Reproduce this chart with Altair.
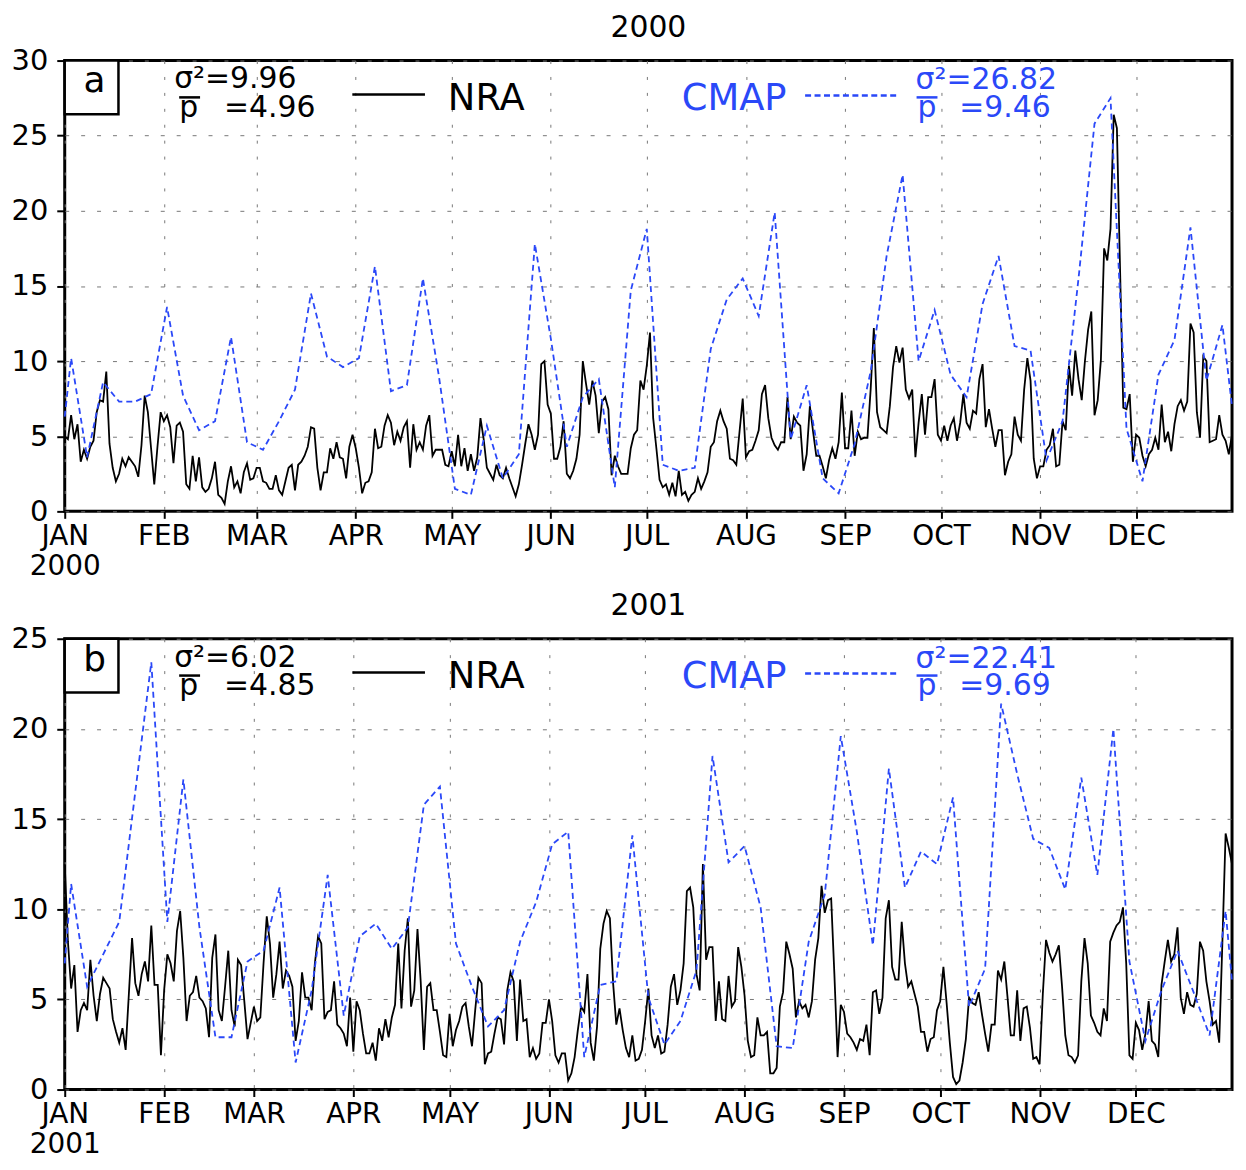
import altair as alt
import pandas as pd

MONTHS = ["JAN", "FEB", "MAR", "APR", "MAY", "JUN", "JUL", "AUG", "SEP", "OCT", "NOV", "DEC"]
MONTH_START_2000 = [0, 31, 60, 91, 121, 152, 182, 213, 244, 274, 305, 335]
MONTH_START_2001 = [0, 31, 59, 90, 120, 151, 181, 212, 243, 273, 304, 334]

# NRA daily precipitation, 2000 (366 days)
NRA_2000 = [
    5.0, 4.8, 6.4, 4.8, 5.8, 3.3, 4.1, 3.5, 4.3, 4.7,
    6.6, 7.4, 7.3, 9.3, 4.5, 2.9, 2.0, 2.5, 3.5, 3.0,
    3.6, 3.3, 3.0, 2.3, 4.4, 7.7, 6.6, 4.2, 1.8, 4.3,
    6.6, 6.0, 6.4, 5.6, 3.2, 5.7, 5.9, 5.3, 1.8, 1.5,
    3.7, 2.0, 3.6, 1.6, 1.3, 1.5, 2.2, 3.3, 1.1, 0.9,
    0.5, 2.0, 3.0, 1.6, 2.0, 1.2, 2.6, 3.2, 2.1, 2.2,
    2.9, 2.9, 2.0, 1.9, 1.5, 1.5, 2.4, 1.4, 1.1, 2.0,
    2.9, 3.1, 1.4, 3.1, 3.3, 3.7,
    4.3, 5.6, 5.5, 2.9, 1.4, 2.6, 2.6, 4.2, 3.5, 4.6,
    3.6, 3.5, 2.2, 4.3, 5.1, 4.2, 2.9, 1.2, 1.9, 2.0,
    2.6, 5.5, 4.2, 4.3, 5.7, 6.4, 5.9, 4.4, 5.3, 4.7,
    5.6, 6.0, 2.9, 5.8, 4.1, 4.6, 4.1, 5.7, 6.4, 3.7,
    4.1, 4.1, 4.1, 3.1, 3.0, 4.0, 3.0, 5.1, 3.0, 4.2,
    2.7, 3.8, 2.7, 3.6, 6.2, 4.8, 2.9, 2.5, 2.1, 3.1,
    2.4, 2.2, 2.9, 2.2, 1.6, 1.0, 1.8, 3.1, 4.5, 5.8,
    5.1, 4.1, 5.1,
    9.8, 10.0, 7.1, 6.5, 3.5, 3.5, 4.3, 6.0, 2.5, 2.2,
    2.7, 3.5, 5.1, 10.0, 8.5, 7.1, 8.7, 7.7, 5.2, 7.3,
    7.6, 6.8, 2.4, 3.7, 3.0, 2.5, 2.5, 2.5, 4.2, 5.1,
    5.4, 8.7, 8.1, 9.7, 11.9, 6.2, 4.2, 2.1, 1.6, 1.8,
    1.1, 1.9, 1.0, 2.7, 1.1, 1.3, 0.7, 1.1, 1.3, 2.2,
    1.5, 2.0, 2.6, 4.3, 4.6, 6.0, 6.7, 6.0, 5.5, 3.5,
    3.4, 3.1, 5.3, 7.5, 3.6, 4.0, 4.1, 4.7, 5.4, 7.8,
    8.4, 6.2, 4.9, 4.4, 4.1,
    4.6, 4.6,
    7.6, 4.8, 6.3, 5.9, 5.7, 2.7, 3.8, 7.0, 5.3, 3.7,
    3.7, 3.0, 2.2, 3.4, 4.2, 3.5, 4.6, 7.9, 4.2, 4.2,
    6.7, 3.7, 5.3, 4.8, 4.9, 4.9, 8.1, 12.2, 6.6, 5.6,
    5.4, 5.2, 7.0, 9.6, 11.0, 9.9, 10.9, 8.1, 7.5, 8.1,
    3.6, 5.9, 7.8, 5.1, 7.6, 7.6, 8.8, 5.1, 4.7, 5.7,
    4.7, 5.7, 6.2, 4.7, 5.9, 7.8, 5.9, 5.5, 6.7, 6.5,
    8.8, 9.8, 5.6, 6.8, 5.5, 4.3, 5.4, 5.4, 2.4, 3.3,
    3.8, 6.3, 5.1,
    4.7, 8.1, 10.2, 8.7, 3.5, 2.2, 3.0, 3.0, 4.1, 4.4,
    5.5, 3.0, 3.1, 6.0, 5.4, 9.7, 7.7, 10.7, 8.8, 7.4,
    10.0, 12.1, 13.3, 6.4, 7.4, 10.1, 17.5, 16.7, 18.8, 26.4,
    25.5, 16.0, 6.9, 6.8, 7.8, 3.3, 5.1, 4.9, 3.7, 3.0,
    3.8, 4.1, 4.9, 4.1, 7.1, 4.6, 5.3, 4.0, 5.8, 7.0,
    7.4, 6.7, 7.3, 12.5, 11.9, 6.6, 4.9, 10.3, 10.0, 4.6,
    4.7, 4.8, 6.4, 5.1, 4.7, 3.8, 5.1,
]

# CMAP pentad precipitation, 2000 (73 pentads) and values at the panel edges
CMAP_2000 = [
    10.2, 3.6, 8.6, 7.3, 7.3, 7.8, 13.6, 7.7, 5.4, 6.0, 11.6, 4.6, 4.1, 6.0, 8.1,
    14.5, 10.3, 9.6, 10.2, 16.3, 8.0, 8.4, 15.5, 9.0, 1.5, 1.1, 5.7, 2.2, 3.8, 17.8,
    11.5, 4.3, 7.6, 8.8, 1.6, 14.7, 18.8, 3.1, 2.7, 2.9, 10.8, 14.1, 15.5, 13.0, 19.9,
    4.8, 8.4, 2.2, 1.2, 4.5, 9.3, 17.0, 22.4, 10.0, 13.4, 9.1, 7.6, 13.8, 17.0, 11.0,
    10.7, 3.4, 6.0, 15.5, 25.8, 27.5, 5.5, 2.0, 9.1, 11.4, 18.9, 8.7, 12.4,
]
CMAP_2000_EDGES = [6.3, 7.0]

# NRA daily precipitation, 2001 (365 days)
NRA_2001 = [
    12.5, 8.2, 5.6, 6.9, 3.2, 4.4, 4.8, 4.4, 7.2, 5.2,
    3.8, 5.3, 6.2, 5.9, 5.6, 3.9, 3.2, 2.6, 3.4, 2.2,
    5.3, 8.4, 5.9, 5.2, 6.4, 7.1, 6.0, 9.1, 5.8, 5.8,
    1.9, 5.5, 7.5, 7.0, 6.0, 8.8, 9.9, 7.3, 3.8, 5.2,
    5.4, 6.3, 5.1, 4.9, 4.5, 2.9, 7.3, 8.6, 4.4, 3.8,
    5.7, 7.7, 4.4, 3.5, 7.2, 6.9, 4.9, 2.8, 3.7, 4.6,
    3.8, 4.0, 7.0, 9.6, 8.1, 5.1, 6.4, 8.2, 5.6, 6.6,
    6.3, 5.7, 2.7, 3.8, 6.5,
    5.1, 5.1, 4.4, 7.0, 8.5, 8.1, 3.9, 4.3, 4.4, 6.0,
    3.6, 3.4, 3.1, 2.4, 5.1, 2.1, 4.9, 4.4, 3.1, 2.0,
    2.0, 2.6, 1.6, 3.4, 2.7, 3.9, 2.9, 4.0, 4.7, 8.1,
    4.5, 7.7, 9.5, 4.6, 5.5, 8.9, 6.0, 2.2, 5.7, 5.9,
    4.4, 4.4, 3.2, 1.9, 1.8, 4.2, 2.4, 3.3, 3.8, 4.6,
    4.8, 3.5, 2.4, 4.4, 6.2, 5.9, 1.4, 2.0, 2.1, 3.1,
    4.0, 3.9, 2.5, 5.5, 6.5, 6.0, 2.7, 6.1, 3.8, 3.9,
    1.8, 2.3, 1.7,
    2.0, 3.7, 3.7, 5.0, 3.8, 1.9, 1.5, 2.0, 2.0, 0.5,
    0.9, 1.8, 3.3, 4.6, 4.3, 6.4, 2.6, 1.6, 3.5, 7.8,
    9.2, 9.9, 9.5, 5.9, 3.6, 4.5, 3.3, 2.3, 1.8, 3.0,
    1.6, 1.7, 2.2, 3.8, 5.6, 3.0, 2.3, 3.0, 2.0, 2.1,
    3.6, 5.7, 6.4, 4.7, 5.5, 7.0, 11.0, 11.2, 10.1, 6.4,
    5.5, 12.5, 7.2, 7.9, 7.9, 3.8, 6.0, 3.9, 3.8, 6.3,
    4.6, 4.9, 7.9, 6.8, 5.2, 2.7, 1.8, 1.9, 4.0, 3.0,
    3.0, 3.2, 0.9, 0.9,
    1.2, 4.6, 5.4, 8.2, 7.5, 6.7, 4.0, 4.9, 4.5, 4.7,
    4.0, 4.9, 7.2, 8.4, 11.3, 9.8, 10.5, 10.6, 6.4, 1.8,
    4.7, 4.3, 3.1, 2.9, 2.6, 2.2, 2.8, 2.7, 3.6, 1.9,
    5.4, 5.5, 4.2, 5.1, 9.5, 10.5, 6.8, 6.1, 6.1, 9.3,
    7.0, 5.7, 6.0, 5.3, 4.6, 3.2, 3.2, 2.1, 2.8, 2.9,
    4.4, 4.9, 6.8, 4.8, 2.6, 0.7, 0.3, 0.5, 1.5, 2.8,
    5.1, 4.8, 4.7, 5.4, 4.2, 3.1, 2.1, 3.6, 3.6, 6.6,
    6.1, 7.1, 5.1, 3.0,
    3.0,
    5.5, 2.7, 4.5, 4.6, 3.4, 1.7, 1.8, 1.4, 5.3, 8.3,
    7.6, 7.1, 7.5, 8.0, 5.7, 3.0, 1.9, 1.8, 1.5, 1.9,
    6.0, 8.4, 7.0, 4.1, 3.7, 3.2, 3.0, 4.5, 3.8, 8.2,
    8.7, 9.1, 9.3, 10.1, 7.0, 1.9, 1.7, 3.7, 3.3, 2.2,
    3.1, 4.9, 2.7, 2.5, 1.8, 5.8, 7.1, 8.3, 7.1, 7.5,
    9.0, 5.1, 4.2, 5.4, 4.7, 4.6, 5.3, 8.2, 7.7, 6.0,
    4.9, 3.6, 3.8, 2.6, 8.2, 14.2, 13.4,
    12.5,
]

CMAP_2001 = [
    11.4, 5.7, 7.5, 9.3, 16.5, 23.7, 9.3, 17.2, 9.0, 2.9, 2.9, 7.1, 7.7, 11.2, 1.5,
    5.5, 11.9, 4.1, 8.5, 9.2, 7.8, 9.0, 15.8, 16.8, 8.1, 5.7, 3.5, 4.4, 8.2, 10.4,
    13.6, 14.3, 1.8, 5.8, 6.0, 14.1, 5.1, 2.5, 3.8, 6.6, 18.5, 12.6, 13.5, 10.1, 2.4,
    2.3, 8.2, 10.8, 19.6, 14.3, 8.0, 17.8, 11.2, 13.2, 12.5, 16.2, 4.6, 6.7, 21.4, 17.5,
    13.9, 13.4, 11.1, 17.3, 11.9, 20.0, 7.1, 2.7, 5.5, 7.7, 5.4, 3.0, 9.9,
]
CMAP_2001_EDGES = [7.0, 6.0]

BLUE = "#2a48f8"
FONT = "DejaVu Sans"
ONE = pd.DataFrame({"k": [0]})
W = 1173
H = 453


def text(s, x, y, color="black", size=30, align="left"):
    return alt.Chart(ONE).mark_text(
        text=s, font=FONT, fontSize=size, color=color, align=align, baseline="alphabetic"
    ).encode(x=alt.value(x), y=alt.value(y))


def hline(x1, x2, y, color="black", width=2.5, dash=None):
    kw = dict(color=color, strokeWidth=width)
    if dash:
        kw["strokeDash"] = dash
    return alt.Chart(ONE).mark_rule(**kw).encode(
        x=alt.value(x1), x2=alt.value(x2), y=alt.value(y)
    )


def make_panel(year, nra, cmap, edges, month_starts, ymax, letter, stats):
    last = len(nra) - 1
    nra_df = pd.DataFrame({"day": list(range(len(nra))), "value": nra})
    cdays = [0] + [5 * i + 2 for i in range(len(cmap))] + [last]
    cvals = [edges[0]] + list(cmap) + [edges[1]]
    cmap_df = pd.DataFrame({"day": cdays, "value": cvals})

    months_js = "[" + ",".join("'%s'" % m for m in MONTHS) + "]"
    starts_js = "[" + ",".join(str(s) for s in month_starts) + "]"
    label_expr = "datum.value == 0 ? ['JAN', '%s'] : %s[indexof(%s, datum.value)]" % (
        year, months_js, starts_js)

    x = alt.X("day:Q", scale=alt.Scale(domain=[0, last], nice=False, zero=False),
              axis=alt.Axis(values=month_starts, labelExpr=label_expr, title=None,
                            grid=True, gridDash=[3, 13], gridColor="#777", gridWidth=1,
                            ticks=True, tickSize=7, tickWidth=2, tickColor="black",
                            domain=False, labelFont=FONT, labelFontSize=28,
                            labelColor="black", labelPadding=4, labelLineHeight=30,
                            labelAngle=0, labelAlign="center", labelBaseline="top",
                            labelFlush=False, labelOverlap=False,
                            minExtent=40, maxExtent=80))
    y = alt.Y("value:Q", scale=alt.Scale(domain=[0, ymax], nice=False, zero=True),
              axis=alt.Axis(values=list(range(0, ymax + 1, 5)), title=None,
                            grid=True, gridDash=[4, 12], gridColor="#777", gridWidth=1,
                            ticks=True, tickSize=8, tickWidth=2, tickColor="black",
                            domain=False, labelFont=FONT, labelFontSize=29,
                            labelColor="black", labelPadding=9, labelFlush=False,
                            labelBaseline="middle", minExtent=55, maxExtent=55))

    nra_line = alt.Chart(nra_df).mark_line(color="black", strokeWidth=1.8).encode(x=x, y=y)
    cmap_line = alt.Chart(cmap_df).mark_line(
        color=BLUE, strokeWidth=1.8, strokeDash=[6, 4]).encode(x=x, y=y)

    box = alt.Chart(ONE).mark_rect(fill="white", stroke="black", strokeWidth=2.5).encode(
        x=alt.value(0), x2=alt.value(54), y=alt.value(0), y2=alt.value(54))

    s_nra, p_nra, s_cmap, p_cmap = stats
    legend = [
        text(str(year), W / 2, -24, size=30, align="center"),
        box,
        text(letter, 30, 32, size=36, align="center"),
        text("σ²=" + s_nra, 110, 28),
        text("p", 115, 57),
        hline(115, 136, 37),
        text("=" + p_nra, 160, 57),
        hline(289, 362, 34),
        text("NRA", 385, 50, size=37),
        text("CMAP", 620, 50, color=BLUE, size=37),
        hline(744, 836, 35, color=BLUE, dash=[6, 3.5]),
        text("σ²=" + s_cmap, 855, 29, color=BLUE),
        text("p", 857, 57, color=BLUE),
        hline(856, 877, 37, color=BLUE),
        text("=" + p_cmap, 899, 57, color=BLUE),
    ]

    return alt.layer(nra_line, cmap_line, *legend).properties(width=W, height=H)


panel_a = make_panel(2000, NRA_2000, CMAP_2000, CMAP_2000_EDGES, MONTH_START_2000, 30, "a",
                     ("9.96", "4.96", "26.82", "9.46"))
panel_b = make_panel(2001, NRA_2001, CMAP_2001, CMAP_2001_EDGES, MONTH_START_2001, 25, "b",
                     ("6.02", "4.85", "22.41", "9.69"))

chart = alt.vconcat(panel_a, panel_b, spacing=7).properties(
    padding={"left": 0, "top": 0, "right": 0, "bottom": 0}
).configure_view(stroke="black", strokeWidth=3)

chart.save("out.html", embed_options={"renderer": "svg", "actions": False})
